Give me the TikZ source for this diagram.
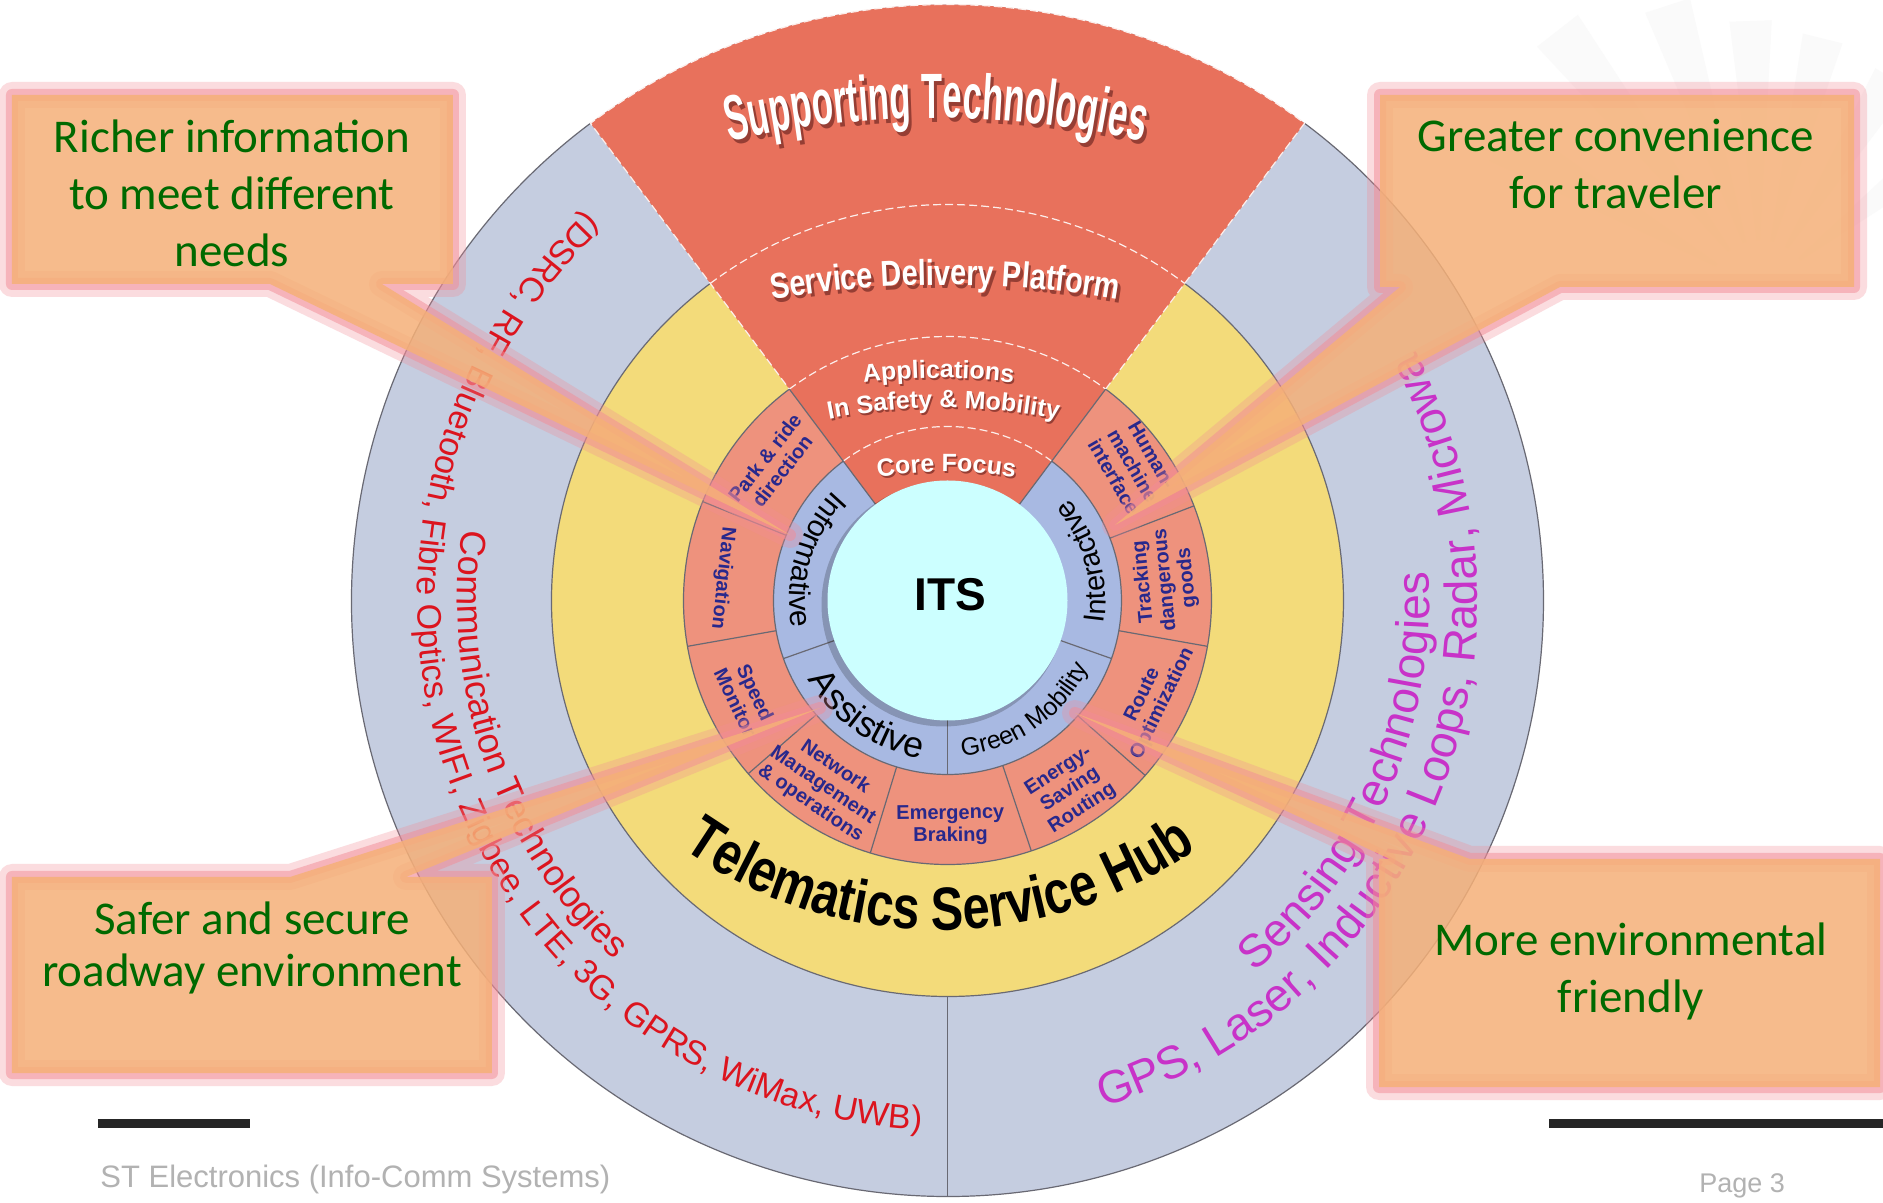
\documentclass[tikz,border=0pt]{standalone}
\usepackage{fontspec}
\setmainfont{Liberation Sans}
\newfontfamily\calibfont{Carlito}
\newfontfamily\narrowfont[FakeStretch=0.8]{Liberation Sans}
\newfontfamily\squeezefont[FakeStretch=0.54]{Liberation Sans}
\usetikzlibrary{decorations.text}

\definecolor{ringgrey}{RGB}{197,205,224}
\definecolor{hubyellow}{RGB}{243,219,122}
\definecolor{appsalmon}{RGB}{238,146,125}
\definecolor{sectorred}{RGB}{232,113,92}
\definecolor{coreblue}{RGB}{168,185,226}
\definecolor{itscyan}{RGB}{204,255,255}
\definecolor{labelnavy}{RGB}{40,40,140}
\definecolor{commred}{RGB}{220,20,30}
\definecolor{sensemag}{RGB}{200,50,200}
\definecolor{calloutfill}{RGB}{245,176,120}
\definecolor{glowpink}{RGB}{242,140,150}
\definecolor{calltext}{RGB}{0,105,0}
\definecolor{shadowred}{RGB}{150,62,52}
\definecolor{edgegrey}{RGB}{105,105,115}

% fonts for the curved labels
\newcommand\fSup{\squeezefont\bfseries\fontsize{32}{36}\selectfont}
\newcommand\fSdp{\narrowfont\bfseries\fontsize{18}{20}\selectfont}
\newcommand\fApp{\bfseries\fontsize{12.5}{14}\selectfont}
\newcommand\fRingA{\fontsize{15}{17}\selectfont}
\newcommand\fRingB{\fontsize{14.5}{17}\selectfont}
\newcommand\fAssist{\fontsize{18}{20}\selectfont}
\newcommand\fGreen{\fontsize{12.5}{14}\selectfont}
\newcommand\fHub{\narrowfont\bfseries\fontsize{30.5}{33}\selectfont}
\newcommand\fComm{\fontsize{18}{20}\selectfont}
\newcommand\fTech{\fontsize{17}{19}\selectfont}
\newcommand\fSense{\fontsize{23}{25}\selectfont}

% text set along a circular arc: centre, radius, start, end, format, text
\newcommand\arcword[6]{%
  \path[shift={(#1)}, decorate,
        decoration={text along path, text align=center, text={|#5|#6}}]
    (#3:#2) arc[start angle=#3, end angle=#4, radius=#2];}

% callout: glow, then translucent body
\newcommand\calloutshape[1]{%
  \path[glowwide] #1;
  \path[glownarrow] #1;
  \path[calloutbody] #1;}

\tikzset{
  ringedge/.style={draw=edgegrey, line width=0.6pt},
  softdash/.style={draw=white!88!sectorred, line width=0.6pt, dash pattern=on 4pt off 2pt},
  seglabel/.style={text=labelnavy, font=\bfseries\fontsize{10}{11}\selectfont, align=center, inner sep=0pt},
  glowwide/.style={draw=glowpink, draw opacity=0.3, line width=13pt, line join=round},
  glownarrow/.style={draw=glowpink, draw opacity=0.5, line width=6pt, line join=round},
  calloutbody/.style={fill=calloutfill, fill opacity=0.85},
  callouttext/.style={text=calltext, font=\calibfont\fontsize{23.5}{28.5}\selectfont, align=center, inner sep=0pt},
  footnote/.style={text=gray!60, anchor=base west, inner sep=0pt}
}

\begin{document}
\begin{tikzpicture}[x=0.5pt, y=0.5pt]
\useasboundingbox (-947.5,-602.5) rectangle (935.5,600.5);
\clip (-947.5,-602.5) rectangle (935.5,600.5);
\fill[white] (-947.5,-602.5) rectangle (935.5,600.5);

% faint starburst logo, top right
\begin{scope}[shift={(812.5,310.5)}]
  \foreach \a/\l in {150/300,128/330,108/300,92/270,76/260,58/250,38/240}
    \fill[gray!4] (\a-2:50) -- (\a-4.5:\l) -- (\a+4.5:\l) -- (\a+2:50) -- cycle;
\end{scope}

% ---- rings ----
\fill[ringgrey] (0,0) circle[radius=596];
\fill[hubyellow] (0,0) circle[radius=396];
\fill[appsalmon] (0,0) circle[radius=264];
\fill[coreblue] (0,0) circle[radius=174];
\fill[sectorred] (0,0) -- (53.2:596) arc[start angle=53.2, end angle=126.8, radius=596] -- cycle;

\path[ringedge] (126.8:596) arc[start angle=126.8, end angle=413.2, radius=596];
\foreach \r in {396,264,174} {
  \path[ringedge] (126.8:\r) arc[start angle=126.8, end angle=413.2, radius=\r];
  \path[softdash] (126.8:\r) arc[start angle=126.8, end angle=53.2, radius=\r];
}
\path[softdash] (53.2:264) -- (53.2:596) arc[start angle=53.2, end angle=126.8, radius=596] -- (126.8:264);
\foreach \a in {53.2,126.8} \path[ringedge] (\a:120) -- (\a:264);
\foreach \a in {158,190,221,253,288.5,318.5,350,21} \path[ringedge] (\a:174) -- (\a:264);
\foreach \a in {199.5,270,340.5} \path[ringedge] (\a:120) -- (\a:174);
\path[ringedge] (270:396) -- (270:596);

% ---- centre ----
\fill[black, opacity=0.2] (-4,-4) circle[radius=122];
\fill[itscyan] (0,0) circle[radius=120];
\node[font=\bfseries\fontsize{23}{26}\selectfont] (its) at (2.5,6) {ITS};

% ---- sector labels (white, with shadow) ----
\arcword{-8.5,-450.5}{929}{110}{70}{\color{shadowred}\fSup}{Supporting Technologies}
\arcword{-11.5,-446.5}{929}{110}{70}{\color{white}\fSup}{Supporting Technologies}
\arcword{0,-721}{1033}{105}{75}{\color{shadowred}\fSdp}{Service Delivery Platform}
\arcword{-2.5,-717.5}{1033}{105}{75}{\color{white}\fSdp}{Service Delivery Platform}
\arcword{-7.5,-379.5}{600}{105}{75}{\color{shadowred}\fApp}{Applications}
\arcword{-9,-377.5}{600}{105}{75}{\color{white}\fApp}{Applications}
\arcword{-2.5,-409.5}{600}{105}{75}{\color{shadowred}\fApp}{In Safety {\&} Mobility}
\arcword{-4,-407.5}{600}{105}{75}{\color{white}\fApp}{In Safety {\&} Mobility}
\arcword{0.5,-273}{400}{105}{75}{\color{shadowred}\fApp}{Core Focus}
\arcword{-1,-271}{400}{105}{75}{\color{white}\fApp}{Core Focus}

% ---- core ring labels ----
\arcword{0,0}{158}{103}{223}{\color{black}\fRingA}{Informative}
\arcword{0,0}{158}{-44}{76}{\color{black}\fRingB}{Interactive}
\arcword{0,0}{160}{175}{295}{\color{black}\fAssist}{Assistive}
\arcword{0,0}{156}{245}{365}{\color{black}\fGreen}{Green Mobility}

% ---- application segments ----
\node[seglabel, rotate=52] (park) at (142:221) {Park \& ride\\direction};
\node[seglabel, rotate=264] (nav) at (174.3:226) {Navigation};
\node[seglabel, rotate=295.5] (speed) at (205.6:224) {Speed\\Monitor};
\node[seglabel, rotate=326] (netw) at (236:223) {Network\\Management\\\& operations};
\node[seglabel, rotate=0.75] (emerg) at (270.75:225) {Emergency\\Braking};
\node[seglabel, rotate=33] (energy) at (303:226) {Energy-\\Saving\\Routing};
\node[seglabel, rotate=64] (route) at (334.3:228) {Route\\Optimization};
\node[seglabel, rotate=95.5] (track) at (5.4:219) {Tracking\\dangerous\\goods};
\node[seglabel, rotate=-60] (human) at (36:229) {Human-\\machine\\interface};

% ---- hub label ----
\arcword{-7.8,117.5}{447}{180}{360}{\color{black}\fHub}{Telematics Service Hub}

% ---- outer ring technologies ----
\arcword{0,0}{490}{119.4}{279.4}{\color{commred}\fComm}{Communication Technologies}
\arcword{0,0}{530}{60}{340}{\color{commred}\fTech}{(DSRC, RF, Bluetooth, Fibre Optics, WIFI, Zigbee, LTE, 3G, GPRS, WiMax, UWB)}
\arcword{0,0}{482}{-113.5}{66.5}{\color{sensemag}\fSense}{Sensing Technologies}
\arcword{0,0}{530}{-150}{105}{\color{sensemag}\fSense}{GPS, Laser, Inductive Loops, Radar, Microwa}

% ---- callouts ----
\calloutshape{(-935.5,505.5) -- (-494.5,505.5) -- (-494.5,316.5) -- (-565.5,316.5) -- (-157.5,65.5) -- (-677.5,316.5) -- (-935.5,316.5) -- cycle}
\calloutshape{(432.5,505.5) -- (906.5,505.5) -- (906.5,313.5) -- (612.5,313.5) -- (167.5,75.5) -- (452.5,313.5) -- (432.5,313.5) -- cycle}
\calloutshape{(-935.5,-276.5) -- (-657.5,-276.5) -- (-127.5,-107.5) -- (-541.5,-276.5) -- (-455.5,-276.5) -- (-455.5,-472.5) -- (-935.5,-472.5) -- cycle}
\calloutshape{(431.5,-258.5) -- (442.5,-258.5) -- (127.5,-112.5) -- (522.5,-258.5) -- (932.5,-258.5) -- (932.5,-486.5) -- (431.5,-486.5) -- cycle}

\node[callouttext] (richer) at (-715.5,407.5) {Richer information\\to meet different\\needs};
\node[callouttext] (greater) at (668,436) {Greater convenience\\for traveler};
\node[callouttext, font=\calibfont\fontsize{23.5}{26}\selectfont] (safer) at (-695.5,-347) {Safer and secure\\roadway environment};
\node[callouttext] (greener) at (683.5,-371) {More environmental\\friendly};

% ---- footer ----
\coordinate (barLa) at (-849.5,-523);
\coordinate (barLb) at (-697.5,-523);
\coordinate (barRa) at (601.5,-523);
\coordinate (barRb) at (935.5,-523);
\draw[black!85, line width=4.5pt] (barLa) -- (barLb);
\draw[black!85, line width=4.5pt] (barRa) -- (barRb);
\node[footnote, font=\fontsize{15.5}{18}\selectfont] (org) at (-847.5,-586.5) {ST Electronics (Info-Comm Systems)};
\node[footnote, font=\fontsize{13.5}{16}\selectfont] (page) at (751.5,-591.5) {Page 3};
\end{tikzpicture}
\end{document}
